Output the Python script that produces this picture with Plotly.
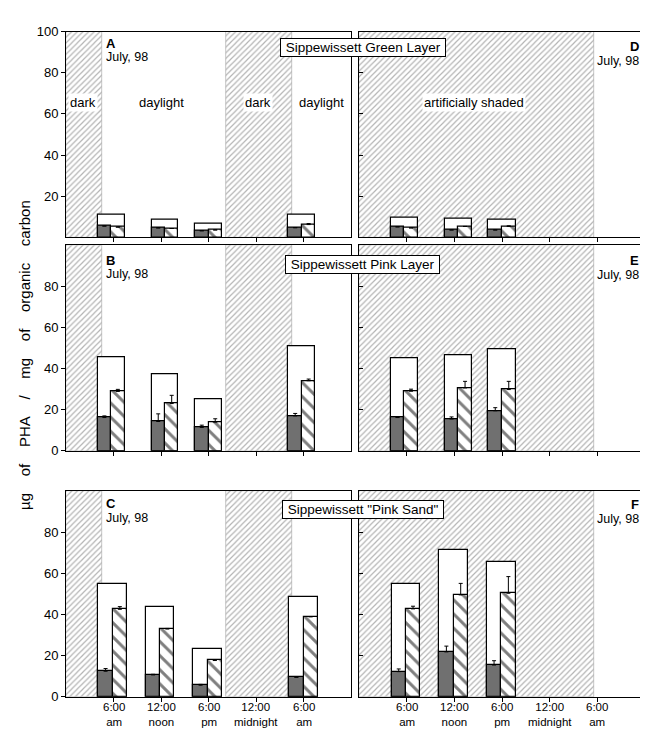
import plotly.graph_objects as go

# ---------------- data ----------------
tick_hours = [6, 12, 18, 24, 30]
tick_labels = ["6:00<br>am", "12:00<br>noon", "6:00<br>pm", "12:00<br>midnight", "6:00<br>am"]

# dark / shaded periods (hours after midnight)
left_dark_start = [0, 20.2]
left_dark_end = [4.5, 28.5]
right_shade_start = [0]
right_shade_end = [29.6]

# sample times (hours) as plotted
times_AB = [5.7, 12.5, 18.0, 29.8]
times_DE = [5.7, 12.5, 18.0]
times_C = [5.9, 11.9, 17.9, 30.0]
times_F = [5.9, 11.9, 17.9]

# Panel A: Green layer, natural light
A_total = [11.0, 8.8, 6.8, 11.0]
A_gray = [5.5, 4.6, 3.2, 4.7]
A_gray_err = [0, 0, 0, 0]
A_hatch = [5.0, 4.3, 3.6, 6.2]
A_hatch_err = [0, 0, 0, 0.5]

# Panel D: Green layer, artificially shaded
D_total = [9.6, 8.9, 8.8]
D_gray = [5.1, 3.6, 3.6]
D_gray_err = [0, 0, 0]
D_hatch = [4.6, 5.3, 5.3]
D_hatch_err = [0, 0, 0.3]

# Panel B: Pink layer, natural light
B_total = [45.6, 37.3, 25.1, 51.1]
B_gray = [16.2, 14.3, 11.4, 17.0]
B_gray_err = [0.8, 3.7, 1.1, 1.2]
B_hatch = [28.9, 23.0, 14.0, 34.1]
B_hatch_err = [1.0, 4.0, 1.6, 0.8]

# Panel E: Pink layer, shaded
E_total = [45.2, 46.5, 49.5]
E_gray = [16.2, 15.5, 19.5]
E_gray_err = [0.3, 1.0, 1.5]
E_hatch = [29.0, 30.6, 29.8]
E_hatch_err = [1.0, 3.2, 4.0]

# Panel C: Pink sand, natural light
C_total = [54.9, 43.5, 23.0, 48.7]
C_gray = [12.4, 10.6, 5.6, 9.5]
C_gray_err = [1.3, 0.3, 0.4, 0]
C_hatch = [42.5, 32.9, 17.6, 38.9]
C_hatch_err = [1.3, 0.3, 0.3, 0]

# Panel F: Pink sand, shaded
F_total = [55.0, 71.3, 65.7]
F_gray = [12.2, 21.8, 15.4]
F_gray_err = [1.3, 2.8, 2.1]
F_hatch = [42.7, 49.5, 50.3]
F_hatch_err = [1.3, 5.6, 8.1]

# ---------------- styling ----------------
W, H = 648, 731
FONT = "Liberation Sans, Arial, Helvetica, sans-serif"
GRAY = "#707070"
SHADE_LINE = "#6a6a6a"

def px(x):
    return x / W

def py(y):
    return 1 - y / H

xL = [px(58), px(343)]
xR = [px(351), px(637)]
rows = [[py(227), py(17)], [py(445), py(235)], [py(696), py(486)]]

panels = [
    (xL, rows[0], times_AB, A_total, A_gray, A_gray_err, A_hatch, A_hatch_err, left_dark_start, left_dark_end, 3.4, True, False),
    (xR, rows[0], times_DE, D_total, D_gray, D_gray_err, D_hatch, D_hatch_err, right_shade_start, right_shade_end, 3.4, False, False),
    (xL, rows[1], times_AB, B_total, B_gray, B_gray_err, B_hatch, B_hatch_err, left_dark_start, left_dark_end, 3.4, True, False),
    (xR, rows[1], times_DE, E_total, E_gray, E_gray_err, E_hatch, E_hatch_err, right_shade_start, right_shade_end, 3.4, False, False),
    (xL, rows[2], times_C, C_total, C_gray, C_gray_err, C_hatch, C_hatch_err, left_dark_start, left_dark_end, 3.6, True, True),
    (xR, rows[2], times_F, F_total, F_gray, F_gray_err, F_hatch, F_hatch_err, right_shade_start, right_shade_end, 3.6, False, True),
]

fig = go.Figure()
layout = {}
annotations = []

for i, (xd, yd, t, tot, g, ge, h, he, ss, se, bw, left, bottom) in enumerate(panels):
    n = i + 1
    xa = "x" if n == 1 else f"x{n}"
    ya = "y" if n == 1 else f"y{n}"
    xkey = "xaxis" if n == 1 else f"xaxis{n}"
    ykey = "yaxis" if n == 1 else f"yaxis{n}"

    # shaded (dark) periods
    centers = [(a + b) / 2 for a, b in zip(ss, se)]
    widths = [b - a for a, b in zip(ss, se)]
    fig.add_trace(go.Bar(
        x=centers, y=[100] * len(centers), width=widths, xaxis=xa, yaxis=ya,
        marker=dict(color="white", line=dict(color="#a0a0a0", width=0.6),
                    pattern=dict(shape="/", fgcolor=SHADE_LINE, bgcolor="white",
                                 size=4, solidity=0.3)),
        showlegend=False, hoverinfo="skip"))

    # total (white) bars
    fig.add_trace(go.Bar(
        x=t, y=tot, width=[bw] * len(t), offset=-bw / 2, xaxis=xa, yaxis=ya,
        marker=dict(color="white", line=dict(color="black", width=1.2)),
        showlegend=False))
    # gray bars
    fig.add_trace(go.Bar(
        x=t, y=g, width=[bw / 2] * len(t), offset=-bw / 2, xaxis=xa, yaxis=ya,
        marker=dict(color=GRAY, line=dict(color="black", width=1.2)),
        error_y=dict(type="data", symmetric=False, array=ge, arrayminus=[0] * len(ge),
                     color="black", thickness=1, width=2),
        showlegend=False))
    # hatched bars
    fig.add_trace(go.Bar(
        x=t, y=h, width=[bw / 2] * len(t), offset=0, xaxis=xa, yaxis=ya,
        marker=dict(color="white", line=dict(color="black", width=1.2),
                    pattern=dict(shape="\\", fgcolor="black", bgcolor="white",
                                 size=10, solidity=0.3)),
        error_y=dict(type="data", symmetric=False, array=he, arrayminus=[0] * len(he),
                     color="black", thickness=1, width=2),
        showlegend=False))

    layout[xkey] = dict(
        domain=xd, range=[0, 36], anchor=ya, showgrid=False, zeroline=False,
        showline=True, linecolor="black", linewidth=1, mirror=True,
        tickmode="array", tickvals=tick_hours, ticktext=[""] * len(tick_hours),
        ticks="outside", ticklen=4, tickcolor="black",
        tickfont=dict(family=FONT, size=12, color="black"))
    if bottom:
        # two-line tick labels placed at the axis tick positions (tight leading)
        for tv, tl in zip(tick_hours, tick_labels):
            annotations.append(dict(
                text=tl, x=tv, xref=xa, y=py(699), yref="paper",
                showarrow=False, xanchor="center", yanchor="top",
                borderpad=0, font=dict(family=FONT, size=11.5, color="black")))
    if left:
        yvals = [20, 40, 60, 80, 100] if n == 1 else [0, 20, 40, 60, 80]
        ytext = [str(v) for v in yvals]
        yt = "outside"
    else:
        yvals = [20, 40, 60, 80]
        ytext = [""] * len(yvals)
        yt = "inside"
    layout[ykey] = dict(
        domain=yd, range=[0, 100], anchor=xa, showgrid=False, zeroline=False,
        showline=True, linecolor="black", linewidth=1, mirror=True,
        tickmode="array", tickvals=yvals, ticktext=ytext,
        ticks=yt, ticklen=4, tickcolor="black",
        tickfont=dict(family=FONT, size=13, color="black"))


def ann(text, x, y, size=12, xanchor="center", **kw):
    d = dict(text=text, x=px(x), y=py(y), xref="paper", yref="paper",
             showarrow=False, xanchor=xanchor, yanchor="middle",
             font=dict(family=FONT, size=size, color="black"))
    d.update(kw)
    annotations.append(d)

# panel letters and dates
ann("<b>A</b>", 96, 29, 13, "left")
ann("July, 98", 96, 43, 12.5, "left")
ann("<b>B</b>", 96, 251, 13, "left")
ann("July, 98", 96, 264, 12.5, "left")
ann("<b>C</b>", 96, 499, 13, "left")
ann("July, 98", 96, 514, 12.5, "left")
ann("<b>D</b>", 633, 32, 13, "right")
ann("July, 98", 633, 47, 12.5, "right")
ann("<b>E</b>", 633, 251, 13, "right")
ann("July, 98", 633, 265, 12.5, "right")
ann("<b>F</b>", 633, 500, 13, "right")
ann("July, 98", 633, 515, 12.5, "right")

# light condition labels
ann("dark", 75, 89, 13, bgcolor="white", borderpad=1)
ann("daylight", 153, 89, 13)
ann("dark", 250, 89, 13, bgcolor="white", borderpad=1)
ann("daylight", 313, 89, 13, bgcolor="white", borderpad=1)
ann("artificially shaded", 466, 89, 13, bgcolor="white", borderpad=1)

# caption boxes
for txt, yy in [("Sippewissett Green Layer", 33.5), ("Sippewissett Pink Layer", 255),
                ("Sippewissett \"Pink Sand\"", 505)]:
    ann("\u00a0" + txt + "\u00a0", 354.5, yy, 13.5, bgcolor="white",
        bordercolor="black", borderwidth=1, borderpad=1)

# y axis title
sp = "\u00a0" * 4
ytitle = sp.join(["\u00b5g", "of", "PHA", "/", "mg", "of", "organic", "carbon"])
ann(ytitle, 17, 347, 15, textangle=-90)

layout.update(dict(
    width=W, height=H, margin=dict(l=0, r=0, t=0, b=0),
    paper_bgcolor="white", plot_bgcolor="white", barmode="overlay",
    bargap=0, showlegend=False, annotations=annotations,
    font=dict(family=FONT, color="black")))

fig.update_layout(**layout)
fig.write_html("out.html")
